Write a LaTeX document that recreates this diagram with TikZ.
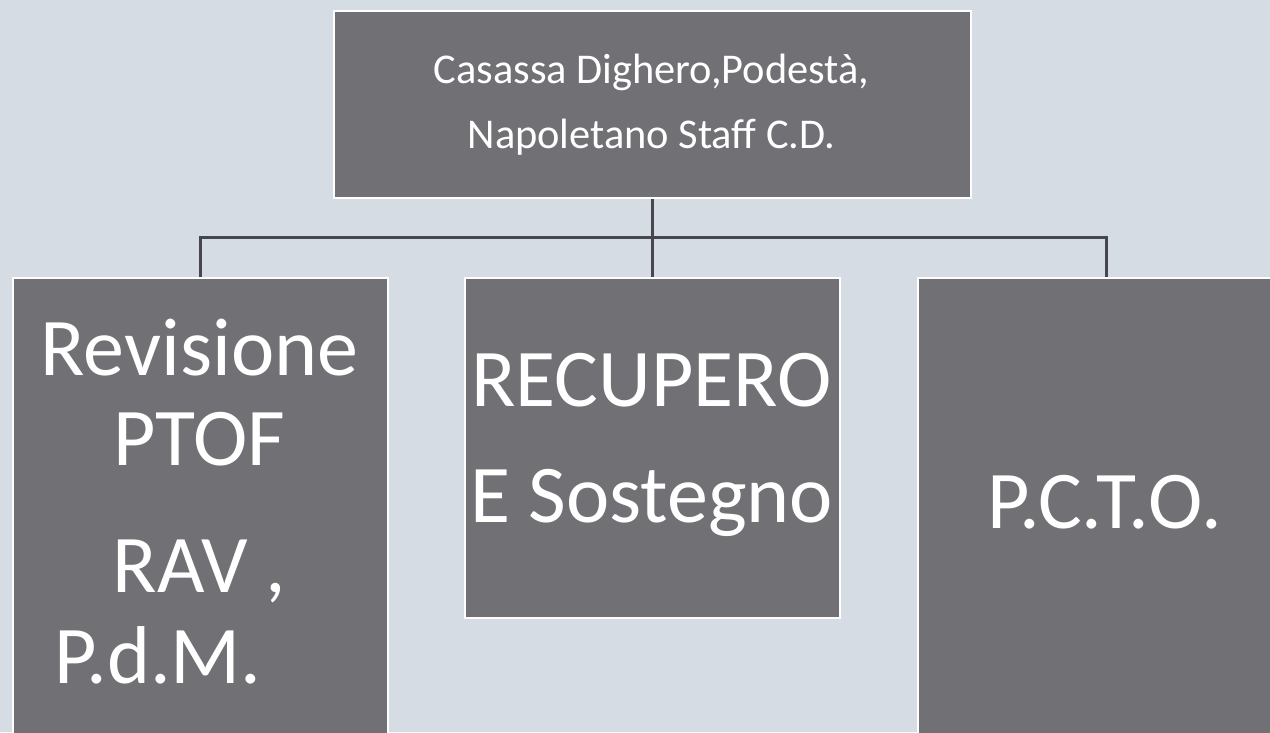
\documentclass[tikz,border=0pt]{standalone}
\usepackage{fontspec}
\setmainfont{Carlito}
\definecolor{bg}{HTML}{D5DCE4}
\definecolor{boxfill}{HTML}{717075}
\definecolor{linec}{HTML}{45474D}
\begin{document}
\begin{tikzpicture}[x=0.75pt,y=-0.75pt,
  orgbox/.style={draw=white,line width=1.6pt,fill=boxfill,rectangle,inner sep=0pt,anchor=north west},
  toptext/.style={text=white,anchor=base,inner sep=0pt,font=\fontsize{31.8pt}{36pt}\selectfont},
  bigtext/.style={text=white,anchor=base,inner sep=0pt,font=\fontsize{61.5pt}{70pt}\selectfont},
  conn/.style={draw=linec,line width=2.25pt}]
\fill[bg] (0,0) rectangle (1270,732);
\useasboundingbox (0,0) rectangle (1270,732);
\clip (0,0) rectangle (1270,732);
% boxes
\node[orgbox,minimum width=477.75pt,minimum height=140.25pt] (top) at (333,10) {};
\node[orgbox,minimum width=281.25pt,minimum height=400pt] (left) at (12,277) {};
\node[orgbox,minimum width=281.25pt,minimum height=255pt] (mid) at (464,277) {};
\node[orgbox,minimum width=282pt,minimum height=400pt] (right) at (917,277) {};
% connectors
\coordinate (bus) at (651.5,237);
\draw[conn] (top.south) -- (top.south |- mid.north);
\draw[conn] (left.north) |- (bus) -| (right.north);
% texts
\node[toptext] (t1) at (651.5,83) {Casassa Dighero,Podestà,};
\node[toptext] (t2) at (651.5,148) {Napoletano Staff C.D.};
\node[bigtext] (l1) at (199.5,375) {Revisione};
\node[bigtext] (l2) at (199.5,465) {PTOF};
\node[bigtext] (l3) at (199.5,592) {RAV ,};
\node[bigtext] (l4) at (158,683) {P.d.M.};
\node[bigtext] (m1) at (651.5,406) {RECUPERO};
\node[bigtext] (m2) at (651.5,522) {E Sostegno};
\node[bigtext] (r1) at (1104.5,528) {P.C.T.O.};
\end{tikzpicture}
\end{document}
